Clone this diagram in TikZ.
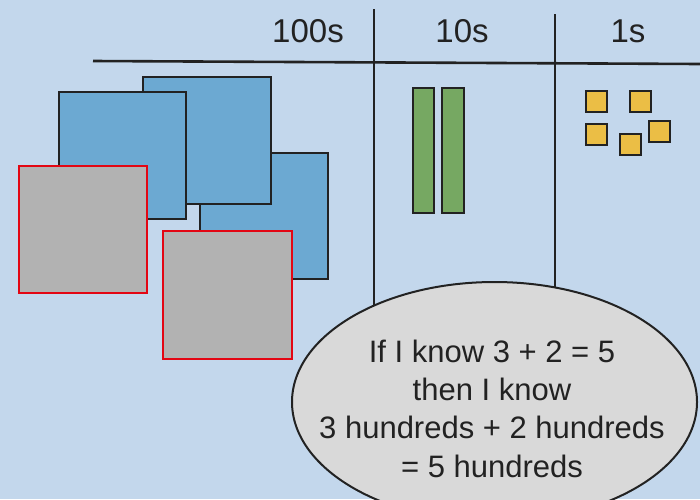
\documentclass[tikz,border=0pt]{standalone}
\usepackage{fontspec}
\setmainfont{Liberation Sans}
\definecolor{bgc}{HTML}{C3D7EC}
\definecolor{hund}{HTML}{6CA9D2}
\definecolor{grayc}{HTML}{B2B2B2}
\definecolor{redc}{HTML}{E30613}
\definecolor{tenc}{HTML}{76A862}
\definecolor{onec}{HTML}{EBBE45}
\definecolor{ellc}{HTML}{D9D9D9}
\definecolor{ink}{HTML}{222222}
\tikzset{
  rule/.style={draw=ink, line width=2.6pt},
  hundblock/.style={draw=ink, line width=2.6pt, fill=hund},
  takeblock/.style={draw=redc, line width=2.4pt, fill=grayc},
  tenblock/.style={draw=ink, line width=2.4pt, fill=tenc},
  oneblock/.style={draw=ink, line width=2pt, fill=onec},
  head/.style={text=ink, font=\fontsize{33}{38}\selectfont, anchor=base, inner sep=0pt},
  msg/.style={text=ink, font=\fontsize{31}{38}\selectfont, anchor=base, inner sep=0pt},
}
\begin{document}
\begin{tikzpicture}[x=1pt,y=-1pt]
\fill[bgc] (0,0) rectangle (700,499);
\useasboundingbox (0,0) rectangle (700,499);
% table lines
\draw[rule] (93,61) -- (700,64);
\draw[rule] (374,9) -- (374,310);
\draw[rule] (555,14) -- (555,300);
% headers
\node[head] (h100) at (308,42) {100s};
\node[head] (h10) at (462,42) {10s};
\node[head] (h1) at (628,42) {1s};
% hundreds
\draw[hundblock] (200,153) rectangle (328,279);
\draw[hundblock] (143,77) rectangle (271,204);
\draw[hundblock] (59,92) rectangle (186,219);
\draw[takeblock] (19,166) rectangle (147,293);
\draw[takeblock] (163,231) rectangle (292,359);
% tens
\draw[tenblock] (413,88) rectangle (434,213);
\draw[tenblock] (442,88) rectangle (464,213);
% ones
\draw[oneblock] (586,91) rectangle (607,112);
\draw[oneblock] (630,91) rectangle (651,112);
\draw[oneblock] (586,124) rectangle (607,145);
\draw[oneblock] (620,134) rectangle (641,155);
\draw[oneblock] (649,121) rectangle (670,142);
% ellipse
\draw[draw=ink, line width=2pt, fill=ellc] (494.5,402) ellipse [x radius=202.5, y radius=120];
\node[msg] (t1) at (492,362) {If I know 3 + 2 = 5};
\node[msg] (t2) at (492,400) {then I know};
\node[msg] (t3) at (492,438) {3 hundreds + 2 hundreds};
\node[msg] (t4) at (492,477) {= 5 hundreds};
\end{tikzpicture}
\end{document}
